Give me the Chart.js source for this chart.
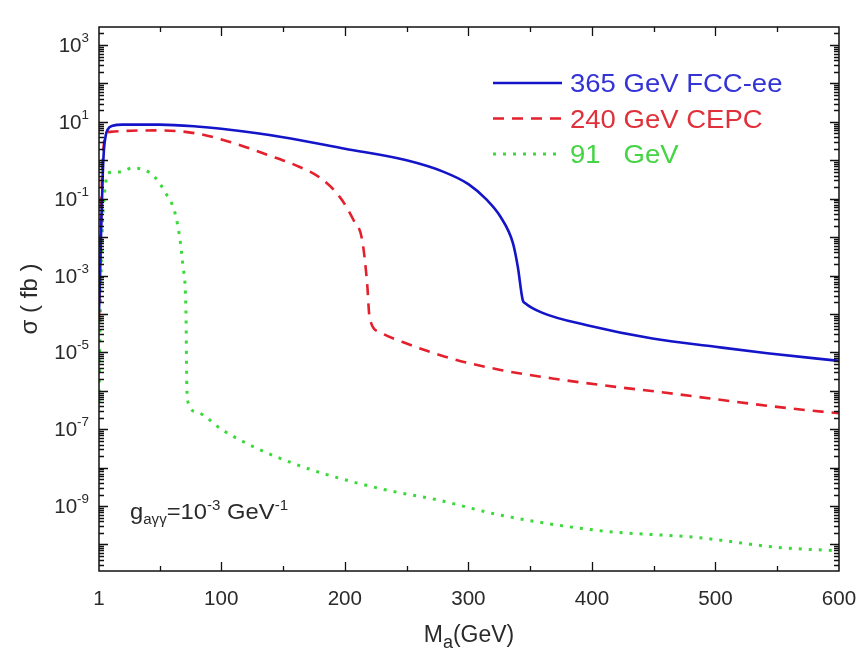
<!DOCTYPE html>
<html>
<head>
<meta charset="utf-8">
<script src="https://cdn.jsdelivr.net/npm/chart.js@4.4.1/dist/chart.umd.min.js"></script>
<style>
  html, body { margin: 0; padding: 0; background: #fff; }
  #wrap { width: 859px; height: 657px; }
</style>
</head>
<body>
<div id="wrap"><canvas id="xsecChart" width="859" height="657"></canvas></div>
<script>
// cross section (fb) vs axion mass (GeV), g_aγγ = 1e-3 GeV^-1
const massFcc = [1, 2, 3, 4, 5, 6.5, 8, 12, 20, 50, 80, 100, 150, 200, 250, 280, 300, 315, 326, 336, 340, 344, 346, 360, 396, 449, 500, 542, 600];
const sigmaFcc = [1.1e-4, 1.6e-3, 3.2e-2, 0.4, 1.9, 4.5, 6.3, 7.9, 8.5, 8.5, 7.6, 6.6, 4.0, 2.0, 1.0, 0.5, 0.24, 0.093, 0.034, 7.1e-3, 1.7e-3, 2.3e-4, 1.9e-4, 1.07e-4, 5.1e-5, 2.3e-5, 1.4e-5, 9.5e-6, 6.0e-6];

const massCepc = [1, 2, 3, 4, 6, 10, 50, 80, 107, 137, 163, 180, 196, 207, 214, 218, 220, 228, 250, 285, 326, 368, 420, 460, 501, 560, 600];
const sigmaCepc = [6.3e-5, 3.2e-3, 0.1, 1.0, 4.0, 5.5, 6.0, 5.0, 3.0, 1.4, 0.68, 0.35, 0.11, 0.028, 8.5e-3, 6.5e-4, 8.3e-5, 3.4e-5, 1.7e-5, 7.1e-6, 3.5e-6, 2.1e-6, 1.26e-6, 8.9e-7, 6.0e-7, 3.5e-7, 2.6e-7];

const massZ = [1, 2, 3, 4, 6, 8.3, 18, 28, 38, 46, 55, 62.5, 66.6, 69, 71.4, 72, 72.5, 80, 101, 126, 158, 186, 234, 275, 325, 406, 487, 549, 600];
const sigmaZ = [5e-7, 1e-4, 3e-3, 0.03, 0.2, 0.47, 0.5, 0.63, 0.56, 0.37, 0.14, 0.043, 8.5e-3, 1.7e-3, 1.07e-4, 1.9e-6, 5.8e-7, 2.8e-7, 9.5e-8, 3.5e-8, 1.3e-8, 6.5e-9, 2.6e-9, 1.45e-9, 5.9e-10, 2.3e-10, 1.5e-10, 8.5e-11, 6.8e-11];

const legendLabels = ['365 GeV FCC-ee', '240 GeV CEPC', '91   GeV'];
const xTickValues = [1, 100, 200, 300, 400, 500, 600];
const xMinorValues = [50, 150, 250, 350, 450, 550];
const yTickExponents = [3, 1, -1, -3, -5, -7, -9];

const FONT = '"Liberation Sans", Arial, sans-serif';
const TEXT_GREY = '#2a2a2a';

const lineStyles = [
  { color: '#1414c8', text: '#3434d6', width: 2.6, dash: [] },
  { color: '#e4202c', text: '#e0303a', width: 2.6, dash: [11, 8] },
  { color: '#3cd93c', text: '#44d444', width: 3, dash: [3, 7] }
];

function toPoints(xs, ys) {
  return xs.map((x, i) => ({ x: x, y: ys[i] }));
}

// text made of runs (normal, sub, sup); sx stretches it horizontally
function drawRuns(ctx, runs, x, y, align, color, sx) {
  sx = sx || 1;
  let total = 0;
  runs.forEach(r => {
    ctx.font = r.size + 'px ' + FONT;
    r.w = ctx.measureText(r.text).width * sx;
    total += r.w;
  });
  let cx = align === 'right' ? x - total : align === 'center' ? x - total / 2 : x;
  ctx.fillStyle = color || TEXT_GREY;
  ctx.textBaseline = 'alphabetic';
  ctx.textAlign = 'left';
  runs.forEach(r => {
    ctx.save();
    ctx.font = r.size + 'px ' + FONT;
    ctx.translate(cx, y + (r.dy || 0));
    ctx.scale(sx, 1);
    ctx.fillText(r.text, 0, 0);
    ctx.restore();
    cx += r.w;
  });
}

const framePlugin = {
  id: 'frame',
  afterDatasetsDraw(chart) {
    const ctx = chart.ctx;
    const { left, right, top, bottom } = chart.chartArea;
    const xs = chart.scales.x, ys = chart.scales.y;
    ctx.save();

    // frame
    ctx.strokeStyle = '#111';
    ctx.lineWidth = 1.5;
    ctx.setLineDash([]);
    ctx.strokeRect(left, top, right - left, bottom - top);

    // x ticks, inward on bottom and top
    ctx.lineWidth = 1.3;
    const xMarks = xTickValues.map(v => [v, 9]).concat(xMinorValues.map(v => [v, 5]));
    xMarks.forEach(([v, len]) => {
      if (v <= xs.min || v >= xs.max) return;
      const px = Math.round(xs.getPixelForValue(v)) + 0.5;
      ctx.beginPath();
      ctx.moveTo(px, bottom); ctx.lineTo(px, bottom - len);
      ctx.moveTo(px, top); ctx.lineTo(px, top + len);
      ctx.stroke();
    });

    // y log ticks, inward on left and right
    const lo = Math.floor(Math.log10(ys.min)), hi = Math.ceil(Math.log10(ys.max));
    for (let n = lo; n <= hi; n++) {
      for (let k = 1; k <= 9; k++) {
        const v = k * Math.pow(10, n);
        if (v <= ys.min || v >= ys.max) continue;
        const len = k === 1 ? 9 : 5;
        const py = Math.round(ys.getPixelForValue(v)) + 0.5;
        ctx.beginPath();
        ctx.moveTo(left, py); ctx.lineTo(left + len, py);
        ctx.moveTo(right, py); ctx.lineTo(right - len, py);
        ctx.stroke();
      }
    }

    // tick labels
    xTickValues.forEach(v => {
      const px = xs.getPixelForValue(v);
      drawRuns(ctx, [{ text: String(v), size: 20 }], px, bottom + 34, 'center', TEXT_GREY, 1.03);
    });
    yTickExponents.forEach(e => {
      const py = ys.getPixelForValue(Math.pow(10, e));
      drawRuns(ctx, [
        { text: '10', size: 20 },
        { text: String(e), size: 13, dy: -10 }
      ], left - 10, py + 7, 'right', TEXT_GREY, 1.03);
    });

    // axis titles
    drawRuns(ctx, [
      { text: 'M', size: 23 },
      { text: 'a', size: 18, dy: 6 },
      { text: '(GeV)', size: 23 }
    ], (left + right) / 2, bottom + 71, 'center', TEXT_GREY, 1.0);

    ctx.save();
    ctx.translate(37, (top + bottom) / 2);
    ctx.rotate(-Math.PI / 2);
    drawRuns(ctx, [{ text: 'σ ( fb )', size: 24 }], 0, 0, 'center', TEXT_GREY, 1.0);
    ctx.restore();

    // coupling note
    drawRuns(ctx, [
      { text: 'g', size: 22 },
      { text: 'aγγ', size: 14, dy: 5 },
      { text: '=10', size: 22 },
      { text: '-3', size: 14, dy: -9 },
      { text: ' GeV', size: 22 },
      { text: '-1', size: 14, dy: -9 }
    ], 130, 519, 'left', TEXT_GREY, 1.08);

    // legend
    legendLabels.forEach((label, i) => {
      const st = lineStyles[i];
      const ly = 83 + i * 35.5;
      ctx.strokeStyle = st.color;
      ctx.lineWidth = st.width;
      ctx.setLineDash(st.dash);
      ctx.beginPath();
      ctx.moveTo(493, ly); ctx.lineTo(562, ly);
      ctx.stroke();
      ctx.setLineDash([]);
      drawRuns(ctx, [{ text: label, size: 25 }], 570, ly + 9, 'left', st.text, 1.1);
    });

    ctx.restore();
  }
};

const series = [
  toPoints(massFcc, sigmaFcc),
  toPoints(massCepc, sigmaCepc),
  toPoints(massZ, sigmaZ)
];

new Chart(document.getElementById('xsecChart').getContext('2d'), {
  type: 'line',
  data: {
    datasets: series.map((pts, i) => ({
      label: legendLabels[i],
      data: pts,
      borderColor: lineStyles[i].color,
      borderWidth: lineStyles[i].width,
      borderDash: lineStyles[i].dash,
      borderCapStyle: 'butt',
      pointRadius: 0,
      fill: false,
      cubicInterpolationMode: 'monotone'
    }))
  },
  options: {
    responsive: false,
    animation: false,
    devicePixelRatio: 1,
    layout: { padding: { left: 99, top: 27, right: 20, bottom: 86 } },
    plugins: { legend: { display: false }, tooltip: { enabled: false } },
    scales: {
      x: { type: 'linear', min: 1, max: 600, display: false },
      y: { type: 'logarithmic', min: Math.pow(10, -10.69), max: Math.pow(10, 3.47), display: false }
    }
  },
  plugins: [framePlugin]
});
</script>
</body>
</html>
